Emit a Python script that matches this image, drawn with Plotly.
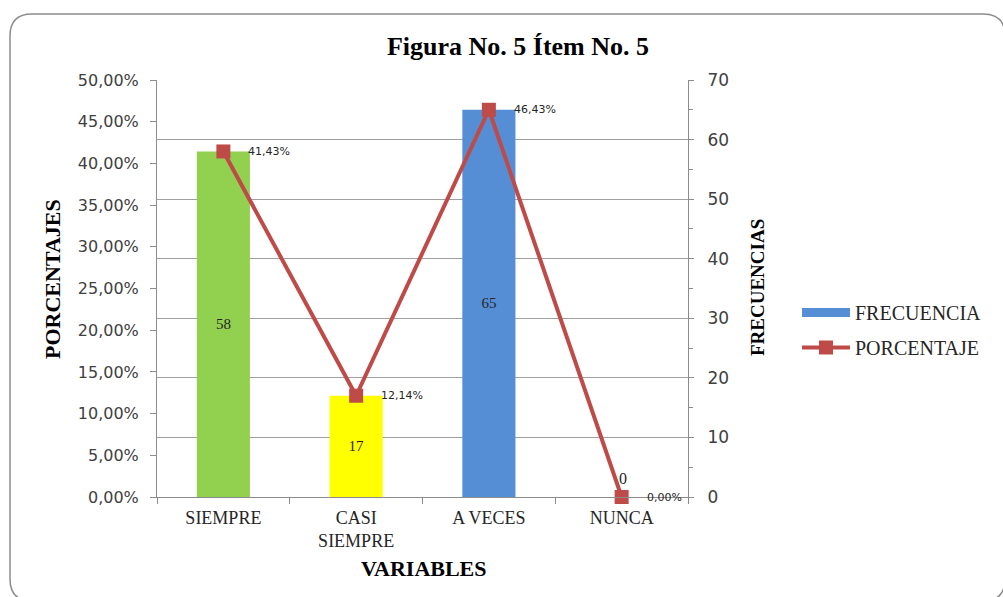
import plotly.graph_objects as go

# Datos del ítem 5
categorias = ["SIEMPRE", "CASI<br>SIEMPRE", "A VECES", "NUNCA"]
frecuencias = [58, 17, 65, 0]
porcentajes = [0.4143, 0.1214, 0.4643, 0.0]
colores_barras = ["#92D050", "#FFFF00", "#558ED5", "#558ED5"]

ROJO = "#BE4B48"
AZUL = "#558ED5"
SERIF = "Liberation Serif, Times New Roman, serif"
SANS = "DejaVu Sans, Verdana, sans-serif"

W, H = 1003, 597
L, R, T, B = 157, 688, 80, 497  # plot area in pixels


def px(x):
    return (x - L) / (R - L)


def py(y):
    return (B - y) / (B - T)


fig = go.Figure()

# Frecuencias (barras, eje derecho); las de valor cero se rotulan aparte
fig.add_trace(go.Bar(
    x=categorias, y=frecuencias, yaxis="y",
    marker=dict(color=colores_barras, line=dict(width=0)),
    width=0.4,
    text=[str(v) if v > 0 else "" for v in frecuencias],
    textposition="inside",
    insidetextanchor="middle",
    textfont=dict(family=SERIF, size=15, color="#262626"),
    cliponaxis=False,
    showlegend=False,
))

# Entrada de leyenda para las barras
fig.add_trace(go.Scatter(
    x=[None], y=[None], mode="lines", name="FRECUENCIA",
    line=dict(color=AZUL, width=9), legendgroup="f",
))

# Porcentajes (línea, eje izquierdo)
fig.add_trace(go.Scatter(
    x=categorias, y=porcentajes, yaxis="y2", mode="lines+markers",
    name="PORCENTAJE", legendgroup="p",
    line=dict(color=ROJO, width=4),
    marker=dict(symbol="square", size=14, color=ROJO),
    cliponaxis=False,
))

anotaciones = []
for c, p in zip(categorias, porcentajes):
    anotaciones.append(dict(
        x=c, y=p, xref="x", yref="y2", xanchor="left", yanchor="middle",
        xshift=23, showarrow=False,
        text=f"{p * 100:.2f}%".replace(".", ","),
        font=dict(family=SANS, size=11, color="#262626"),
    ))

for c, f in zip(categorias, frecuencias):
    if f == 0:
        anotaciones.append(dict(
            x=c, y=f, xref="x", yref="y", xanchor="center", yanchor="bottom",
            xshift=1, yshift=8, showarrow=False, text=str(f),
            font=dict(family=SERIF, size=16, color="#262626"),
        ))

anotaciones += [
    dict(x=px(52), y=py(279), xref="paper", yref="paper", textangle=-90,
         xanchor="center", yanchor="middle",
         text="<b>PORCENTAJES</b>", showarrow=False,
         font=dict(family=SERIF, size=22, color="#000000")),
    dict(x=px(757), y=py(288), xref="paper", yref="paper", textangle=-90,
         xanchor="center", yanchor="middle",
         text="<b>FRECUENCIAS</b>", showarrow=False,
         font=dict(family=SERIF, size=19, color="#000000")),
    dict(x=px(424), y=py(568), xref="paper", yref="paper",
         xanchor="center", yanchor="middle",
         text="<b>VARIABLES</b>", showarrow=False,
         font=dict(family=SERIF, size=22, color="#000000")),
]

# Marco redondeado del gráfico
x0, x1, y0, y1, r = 10, 1005, 14, 601, 22
marco = (
    f"M {px(x0)},{py(y0 + r)} "
    f"Q {px(x0)},{py(y0)} {px(x0 + r)},{py(y0)} "
    f"L {px(x1 - r)},{py(y0)} "
    f"Q {px(x1)},{py(y0)} {px(x1)},{py(y0 + r)} "
    f"L {px(x1)},{py(y1 - r)} "
    f"Q {px(x1)},{py(y1)} {px(x1 - r)},{py(y1)} "
    f"L {px(x0 + r)},{py(y1)} "
    f"Q {px(x0)},{py(y1)} {px(x0)},{py(y1 - r)} Z"
)

fig.update_layout(
    width=W, height=H,
    margin=dict(l=L, r=W - R, t=T, b=H - B, pad=0),
    paper_bgcolor="white", plot_bgcolor="white",
    separators=",.",
    title=dict(text="<b>Figura No. 5 Ítem No. 5</b>", x=518 / W, xanchor="center",
               y=1 - 46 / H, yanchor="middle",
               font=dict(family=SERIF, size=26, color="#000000")),
    xaxis=dict(
        type="category", showline=True, linecolor="#8C8C8C", linewidth=1,
        ticks="outside", tickson="boundaries", ticklen=6, tickcolor="#8C8C8C",
        tickfont=dict(family=SERIF, size=18, color="#262626"),
        showgrid=False, zeroline=False, ticklabelstandoff=4,
    ),
    yaxis=dict(
        side="right", range=[0, 70], dtick=10, tick0=0,
        showline=True, linecolor="#8C8C8C", linewidth=1,
        ticks="outside", ticklen=5, tickcolor="#8C8C8C",
        minor=dict(ticks="outside", dtick=5, ticklen=4, tickcolor="#8C8C8C"),
        showgrid=True, gridcolor="#A0A0A0", gridwidth=1, zeroline=False,
        tickfont=dict(family=SANS, size=17, color="#404040"),
        ticklabelstandoff=10,
    ),
    yaxis2=dict(
        overlaying="y", side="left", range=[0, 0.5], dtick=0.05, tick0=0,
        tickformat=".2%", showline=True, linecolor="#8C8C8C", linewidth=1,
        ticks="outside", ticklen=6, tickcolor="#8C8C8C",
        showgrid=False, zeroline=False,
        tickfont=dict(family=SANS, size=16, color="#404040"),
        ticklabelstandoff=8,
    ),
    legend=dict(
        x=px(797), y=py(330), xanchor="left", yanchor="middle",
        font=dict(family=SERIF, size=20, color="#262626"),
        itemwidth=48, traceorder="grouped", tracegroupgap=6,
        bgcolor="rgba(0,0,0,0)",
    ),
    annotations=anotaciones,
    shapes=[dict(type="path", path=marco, xref="paper", yref="paper",
                 line=dict(color="#8C8C8C", width=1.5), layer="below")],
    bargap=0.6,
)

fig.write_html("out.html")
